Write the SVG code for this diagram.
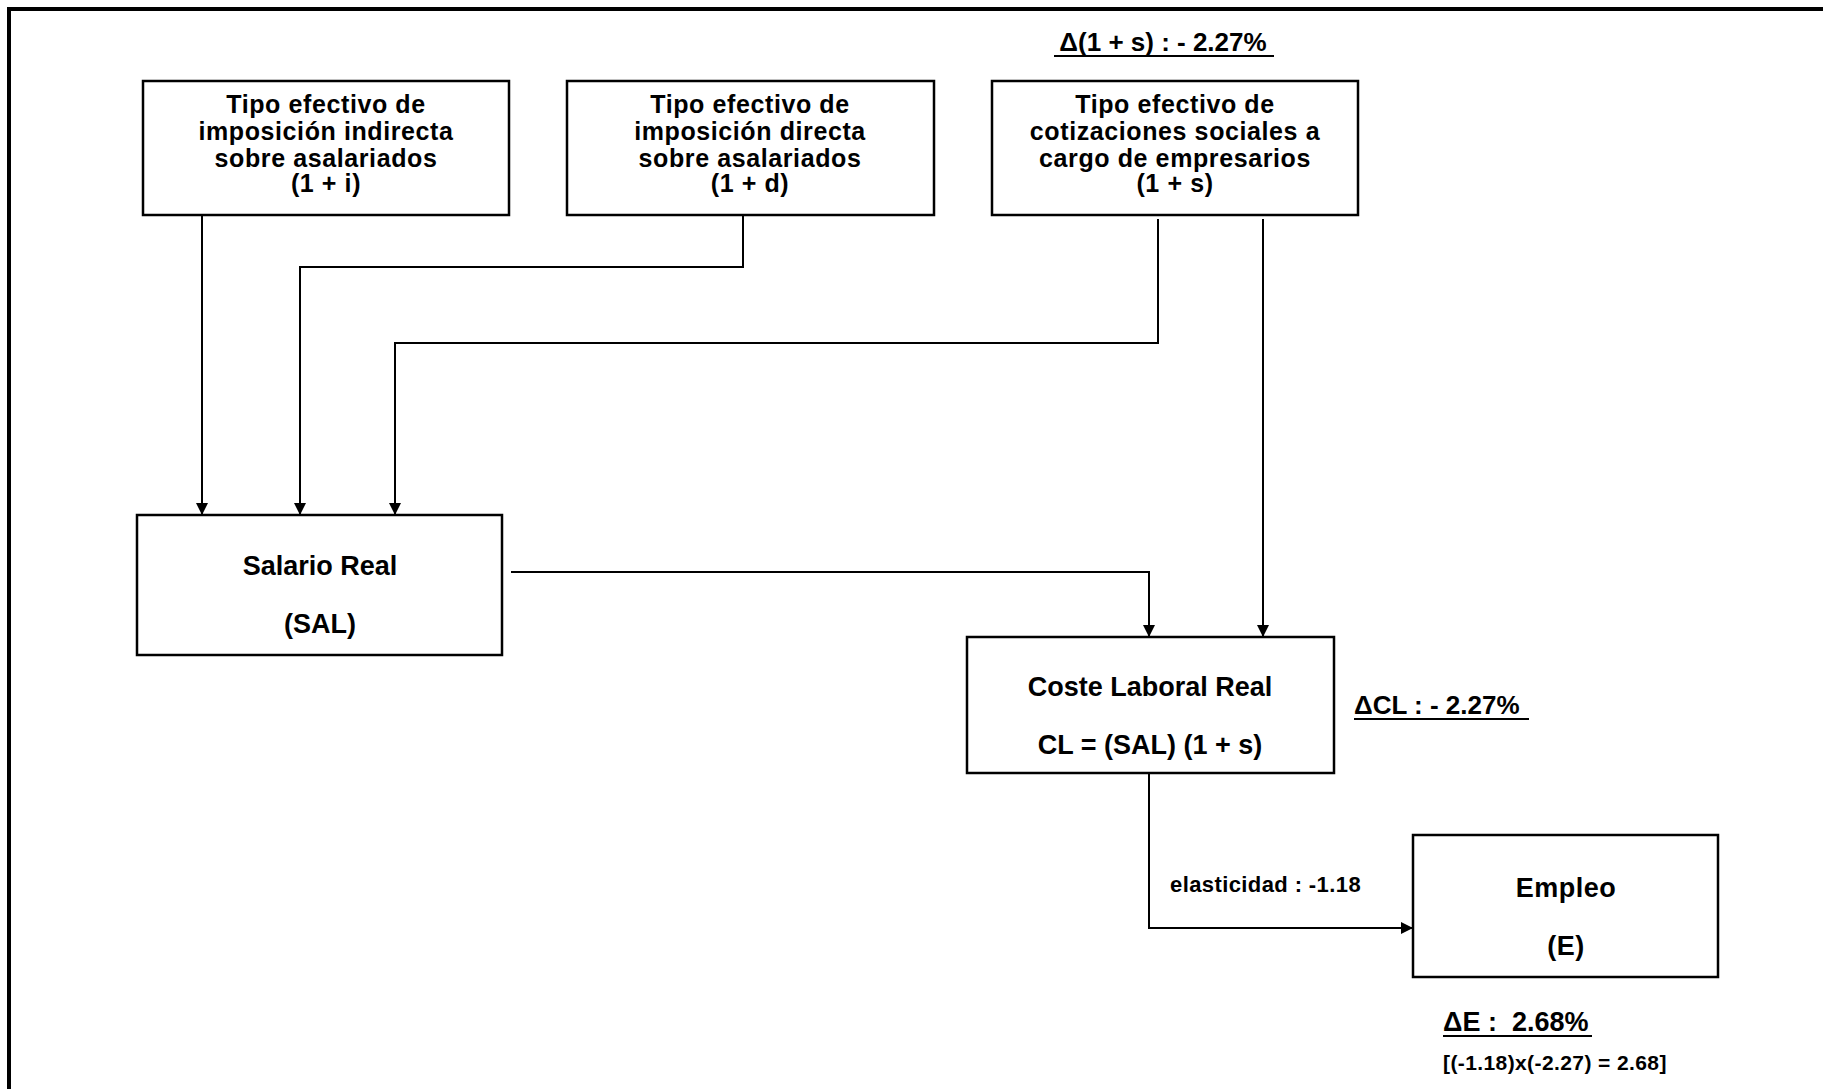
<svg xmlns="http://www.w3.org/2000/svg" width="1823" height="1089" viewBox="0 0 1823 1089">
<style>
.box{fill:#fff;stroke:#000;stroke-width:2.5}
.t{font-family:"Liberation Sans",Arial,sans-serif;font-weight:bold;fill:#000;text-anchor:middle}
.tl{font-family:"Liberation Sans",Arial,sans-serif;font-weight:bold;fill:#000}
.hd{font-size:25px;letter-spacing:0.6px}
.c{fill:none;stroke:#000;stroke-width:2}
.u{stroke:#000;stroke-width:2}
</style>
<defs>
<marker id="ah" viewBox="0 0 10 10" refX="10" refY="5" markerWidth="12" markerHeight="12" markerUnits="userSpaceOnUse" orient="auto">
<path d="M0,0 L10,5 L0,10 z" fill="#000"/>
</marker>
</defs>
<rect width="1823" height="1089" fill="#fff"/>
<g id="frame">
<path d="M9,1089 V9 H1823" fill="none" stroke="#000" stroke-width="4"/>
</g>
<g id="connectors">
<path class="c" d="M202,215 V515" marker-end="url(#ah)"/>
<path class="c" d="M743,215 V267 H300 V515" marker-end="url(#ah)"/>
<path class="c" d="M1158,219 V343 H395 V515" marker-end="url(#ah)"/>
<path class="c" d="M1263,219 V637" marker-end="url(#ah)"/>
<path class="c" d="M511,572 H1149 V637" marker-end="url(#ah)"/>
<path class="c" d="M1149,773 V928 H1413" marker-end="url(#ah)"/>
<text class="tl" x="1170" y="892" font-size="22" letter-spacing="0.4">elasticidad : -1.18</text>
</g>
<g id="label-s">
<text class="t" x="1163" y="51" font-size="26">Δ(1 + s) : - 2.27%</text>
<line class="u" x1="1054" y1="56" x2="1274" y2="56"/>
</g>
<g id="node-indirecta">
<rect class="box" x="143" y="81" width="366" height="134"/>
<text class="t hd"><tspan x="326" y="113">Tipo efectivo de</tspan><tspan x="326" y="140">imposición indirecta</tspan><tspan x="326" y="167">sobre asalariados</tspan><tspan x="326" y="192">(1 + i)</tspan></text>
</g>
<g id="node-directa">
<rect class="box" x="567" y="81" width="367" height="134"/>
<text class="t hd"><tspan x="750" y="113">Tipo efectivo de</tspan><tspan x="750" y="140">imposición directa</tspan><tspan x="750" y="167">sobre asalariados</tspan><tspan x="750" y="192">(1 + d)</tspan></text>
</g>
<g id="node-cotizaciones">
<rect class="box" x="992" y="81" width="366" height="134"/>
<text class="t hd"><tspan x="1175" y="113">Tipo efectivo de</tspan><tspan x="1175" y="140">cotizaciones sociales a</tspan><tspan x="1175" y="167">cargo de empresarios</tspan><tspan x="1175" y="192">(1 + s)</tspan></text>
</g>
<g id="node-salario">
<rect class="box" x="137" y="515" width="365" height="140"/>
<text class="t" font-size="27"><tspan x="320" y="575">Salario Real</tspan><tspan x="320" y="633">(SAL)</tspan></text>
</g>
<g id="node-coste">
<rect class="box" x="967" y="637" width="367" height="136"/>
<text class="t" font-size="27"><tspan x="1150" y="696">Coste Laboral Real</tspan><tspan x="1150" y="754">CL = (SAL) (1 + s)</tspan></text>
</g>
<g id="label-cl">
<text class="tl" x="1354" y="714" font-size="26">ΔCL : - 2.27%</text>
<line class="u" x1="1354" y1="719" x2="1529" y2="719"/>
</g>
<g id="node-empleo">
<rect class="box" x="1413" y="835" width="305" height="142"/>
<text class="t" font-size="27" letter-spacing="0.5"><tspan x="1566" y="897">Empleo</tspan><tspan x="1566" y="955">(E)</tspan></text>
</g>
<g id="label-e">
<text class="tl" x="1443" y="1031" font-size="27">ΔE :&#160; 2.68%</text>
<line class="u" x1="1443" y1="1036" x2="1592" y2="1036"/>
<text class="tl" x="1443" y="1070" font-size="21" letter-spacing="0.4">[(-1.18)x(-2.27) = 2.68]</text>
</g>
</svg>
